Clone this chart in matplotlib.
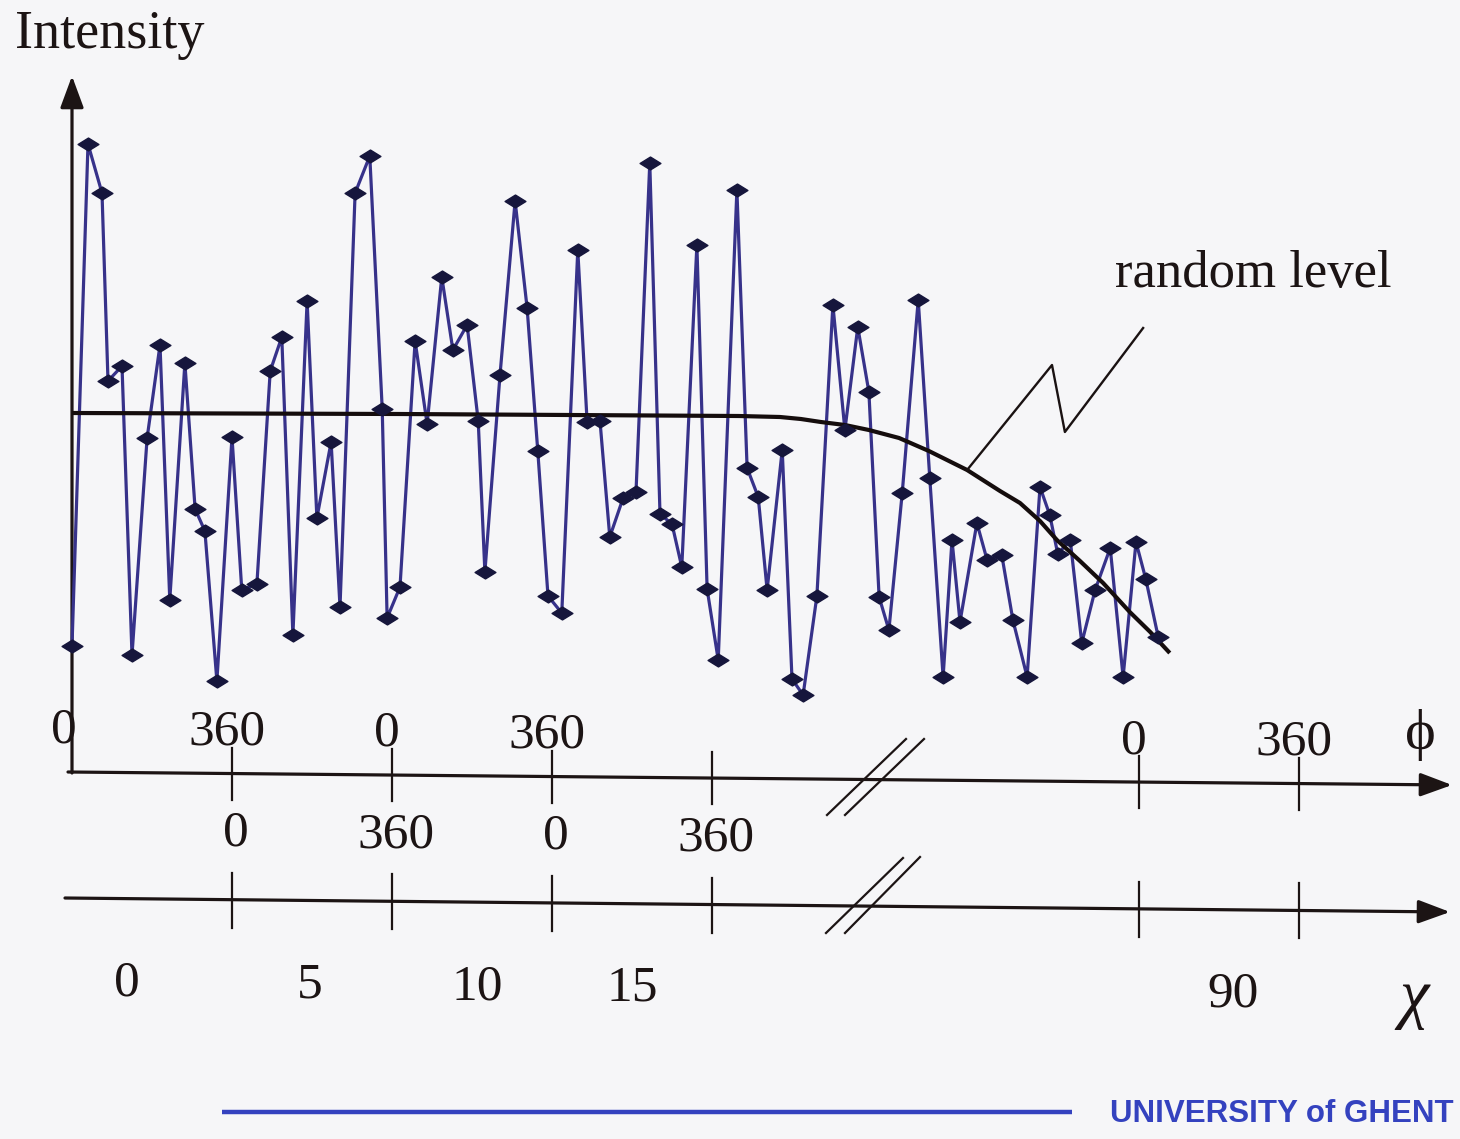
import matplotlib
matplotlib.use('Agg')
import matplotlib.pyplot as plt
from matplotlib.path import Path
from matplotlib import font_manager

# ---------------- data ----------------
# cumulative scan position (degrees of phi, blocks of 360 per chi step)
phi_pos = [0, 36, 67.5, 81, 112.5, 135, 169, 198, 220, 254, 277, 299, 326, 360,
           382, 416, 446, 472, 497, 529, 551, 583, 603, 637, 670, 698, 709, 738,
           772, 799, 832, 857, 889, 914, 929, 963, 997, 1024, 1048, 1071, 1102,
           1138, 1159, 1188, 1210, 1240, 1269, 1300, 1323, 1350, 1372, 1406,
           1429, 1454, 1496, 1519, 1544, 1564, 1598, 1620, 1645, 1676, 1712,
           1739, 1768, 1793, 1816, 1838, 1868, 1904, 1930, 1960, 1980, 1998,
           2036, 2059, 2092, 2117, 2149, 2178, 2200, 2218, 2246, 2272, 2302,
           2336, 2365, 2394, 2416, 2444]
intensity = [25.2, 125.6, 115.8, 78.2, 81.2, 23.4, 66.8, 85.4, 34.4, 81.8, 52.6,
             48.2, 18.2, 67.0, 36.4, 37.6, 80.2, 87.0, 27.4, 94.2, 50.8, 66.0,
             33.0, 115.8, 123.2, 72.6, 30.8, 37.0, 86.2, 69.6, 99.0, 84.4, 89.4,
             70.2, 40.0, 79.4, 114.2, 92.8, 64.2, 35.2, 31.8, 104.4, 70.0, 70.2,
             47.0, 54.8, 56.0, 121.8, 51.6, 49.6, 41.0, 105.4, 36.6, 22.4, 116.4,
             60.8, 55.0, 36.4, 64.4, 18.6, 15.4, 35.2, 93.4, 68.4, 89.0, 76.0,
             35.0, 28.4, 55.8, 94.4, 58.8, 19.0, 46.4, 30.0, 49.8, 42.4, 43.4,
             30.4, 19.0, 57.0, 51.4, 43.6, 46.4, 25.8, 36.4, 44.8, 19.0, 46.0,
             38.6, 27.0]

# random level curve
rl_pos = [0, 738, 1500, 1593, 1640, 1685, 1739, 1793, 1861, 1928, 2014, 2088,
          2133, 2178, 2216, 2268, 2320, 2380, 2426, 2470]
rl_int = [71.8, 71.6, 71.2, 71.0, 70.6, 70.0, 69.4, 68.4, 66.8, 64.2, 60.4,
          56.2, 53.8, 50.2, 46.4, 42.2, 37.8, 32.0, 28.0, 23.8]

# zig-zag pointer for the "random level" label
ptr_pos = [2014, 2205, 2234, 2410]
ptr_int = [60.4, 81.4, 68.0, 88.8]

# axis ticks and labels
tick_pos = [360, 720, 1080, 1440, 2400, 2760]
phi_top_labels = ['0', '360', '0', '360', '0', '360']
phi_top_pos = [0, 360, 720, 1080, 2400, 2760]
phi_mid_labels = ['0', '360', '0', '360']
phi_mid_pos = [360, 720, 1080, 1440]
chi_labels = ['0', '5', '10', '15', '90']
chi_pos = [124, 536, 911, 1260, 2612]

# ---------------- figure ----------------
W, H = 1460, 1139
BG = '#f6f6f8'
INK = '#1c1414'
fig = plt.figure(figsize=(W / 100, H / 100), dpi=100)
fig.patch.set_facecolor(BG)

ov = fig.add_axes([0, 0, 1, 1])
ov.set_xlim(0, W)
ov.set_ylim(H, 0)
ov.axis('off')
ov.patch.set_alpha(0)

X0, Y0 = 72, 772
XMAX, YMAX = 3000, 140
ax = fig.add_axes([X0 / W, (H - Y0) / H, XMAX / 2.25 / W, YMAX * 5 / H])
ax.set_xlim(0, XMAX)
ax.set_ylim(0, YMAX)
ax.axis('off')
ax.patch.set_alpha(0)

serif = ['Liberation Serif', 'DejaVu Serif']


def px_of(xd):
    return ov.transData.inverted().transform(ax.transData.transform((xd, 0)))[0]


def phi_axis_y(px):
    return 772 + (px - 68) * 13 / 1384


def chi_axis_y(px):
    return 898 + (px - 65) * 14 / 1385


# data
diamond = Path([(-1, 0), (0, 0.62), (1, 0), (0, -0.62), (-1, 0)],
               [Path.MOVETO, Path.LINETO, Path.LINETO, Path.LINETO, Path.CLOSEPOLY])
ax.plot(phi_pos, intensity, color='#37328a', lw=2.3, zorder=3, clip_on=False,
        solid_joinstyle='round')
ax.plot(rl_pos, rl_int, color='#150d0d', lw=3.0, zorder=4, clip_on=False,
        solid_capstyle='butt', solid_joinstyle='round')
ax.plot(phi_pos, intensity, ls='none', marker=diamond, ms=15, mfc='#16163c',
        mec='#16163c', zorder=5, clip_on=False)
ax.plot(ptr_pos, ptr_int, color='#1a1212', lw=1.7, zorder=4, clip_on=False)

# axes lines with arrows
arrow = dict(arrowstyle='-|>,head_length=0.65,head_width=0.24', lw=2.3,
             color=INK, mutation_scale=30, shrinkA=0, shrinkB=0)
ov.annotate('', xy=(72, 76), xytext=(72, 773), arrowprops=arrow)
ov.annotate('', xy=(1452, phi_axis_y(1452)), xytext=(68, phi_axis_y(68)),
            arrowprops=arrow)
ov.annotate('', xy=(1450, chi_axis_y(1450)), xytext=(65, chi_axis_y(65)),
            arrowprops=arrow)

# ticks
for t in tick_pos:
    p = px_of(t)
    y1 = phi_axis_y(p)
    ov.plot([p, p], [y1 - 26, y1 + 26], color=INK, lw=1.6)
    y2 = chi_axis_y(p)
    ov.plot([p, p], [y2 - 27, y2 + 28], color=INK, lw=1.6)

# axis break marks
for (xa, ya, xb, yb) in [(827, 815, 906, 739), (845, 815, 924, 739),
                         (826, 933, 903, 858), (845, 933, 920, 857)]:
    ov.plot([xa, xb], [ya, yb], color=INK, lw=1.6)

# labels
fs = 37
for lab, pos in zip(phi_top_labels, phi_top_pos):
    p = px_of(pos)
    if pos == 0:
        p -= 8
    else:
        p -= 5
    ov.text(p, phi_axis_y(p) - 29, lab, ha='center', va='baseline',
            fontsize=fs, family=serif, color=INK)
for lab, pos in zip(phi_mid_labels, phi_mid_pos):
    p = px_of(pos) + 4
    ov.text(p, chi_axis_y(p) - 54, lab, ha='center', va='baseline',
            fontsize=fs, family=serif, color=INK)
for lab, pos in zip(chi_labels, chi_pos):
    p = px_of(pos)
    ov.text(p, chi_axis_y(p) + 97, lab, ha='center', va='baseline',
            fontsize=fs, family=serif, color=INK)

ov.text(1420, 735, '\u03d5', ha='center', va='center', fontsize=42,
        family=serif, color=INK)
ov.text(1414, 1000, '\u03c7', ha='center', va='center', fontsize=48,
        family=serif, style='italic', color=INK)
ov.text(15, 35, 'Intensity', ha='left', va='center', fontsize=39,
        family=serif, color=INK)
ov.text(1115, 287, 'random level', ha='left', va='baseline', fontsize=38,
        family=serif, color=INK)

# footer
BLUE = '#3442bf'
ov.plot([222, 1072], [1112, 1112], color=BLUE, lw=3.2, solid_capstyle='butt')
names = {f.name for f in font_manager.fontManager.ttflist}
if 'Liberation Sans Narrow' in names:
    ov.text(1454, 1114, 'UNIVERSITY of GHENT', ha='right', va='center',
            fontsize=25, family='Liberation Sans Narrow', weight='bold',
            color=BLUE)
else:
    ov.text(1454, 1114, 'UNIVERSITY of GHENT', ha='right', va='center',
            fontsize=22.5, family='Liberation Sans', weight='bold', color=BLUE)

fig.savefig('out.png', dpi=100, facecolor=BG)
